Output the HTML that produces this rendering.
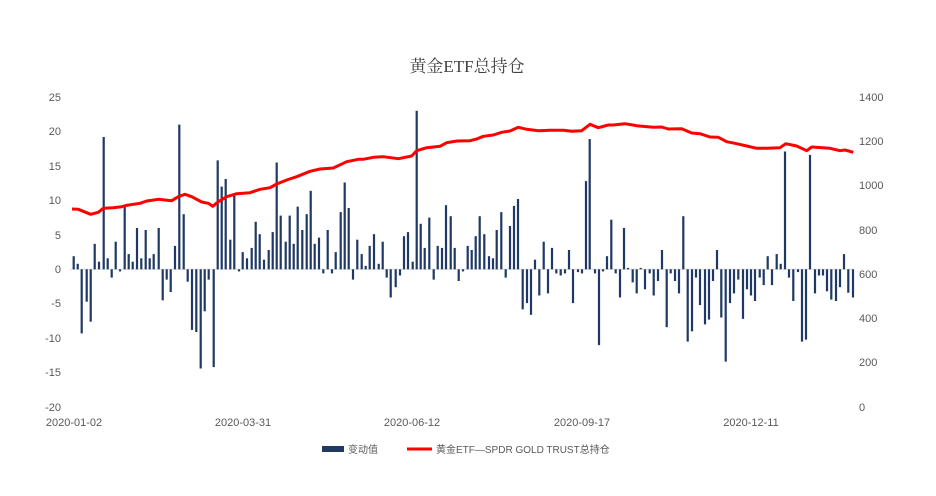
<!DOCTYPE html>
<html><head><meta charset="utf-8"><style>
body{margin:0;background:#fff;}
svg{display:block;font-family:"Liberation Sans","Noto Sans CJK SC",sans-serif;}
</style></head><body>
<svg id="c" width="936" height="496" viewBox="0 0 936 496" xmlns="http://www.w3.org/2000/svg">
<rect width="936" height="496" fill="#fff"/>
<text x="467" y="72" text-anchor="middle" font-size="17" fill="#404040" font-family="Liberation Serif,Noto Serif CJK SC,serif">黄金ETF总持仓</text>
<g font-size="11" fill="#595959" text-anchor="end">
<text x="61" y="101">25</text><text x="61" y="135">20</text><text x="61" y="170">15</text><text x="61" y="204">10</text><text x="61" y="239">5</text><text x="61" y="273">0</text><text x="61" y="307">-5</text><text x="61" y="342">-10</text><text x="61" y="376">-15</text><text x="61" y="411">-20</text>
</g>
<g font-size="11" fill="#595959" text-anchor="start">
<text x="859" y="101">1400</text><text x="859" y="145">1200</text><text x="859" y="189">1000</text><text x="859" y="234">800</text><text x="859" y="278">600</text><text x="859" y="322">400</text><text x="859" y="366">200</text><text x="859" y="411">0</text>
</g>
<g font-size="11" fill="#595959" text-anchor="middle">
<text x="74" y="426">2020-01-02</text><text x="243" y="426">2020-03-31</text><text x="412" y="426">2020-06-12</text><text x="582" y="426">2020-09-17</text><text x="751" y="426">2020-12-11</text>
</g>
<line x1="70" y1="269.3" x2="853" y2="269.3" stroke="#d9d9d9" stroke-width="1"/>
<g id="bars" fill="#1f3864"></g>
<polyline id="ln" fill="none" stroke="#ff0000" stroke-width="3" stroke-linejoin="round"/>
<rect x="322" y="446" width="22" height="6" fill="#1f3864"/>
<text x="348" y="453" font-size="10" fill="#595959">变动值</text>
<line x1="407" y1="449" x2="432" y2="449" stroke="#ff0000" stroke-width="3"/>
<text x="436" y="453" font-size="10" fill="#595959">黄金ETF—SPDR GOLD TRUST总持仓</text>
</svg>
<script>
var z1=[[41,1.9],[53,.8],[65,-9.3],[80,-4.7],[92,-7.6],[104,3.7],[117,1.1],[131,19.2],[143,1.6],[155,-1.2],[167,4],[180,-.3],[194,9.1],[206,2.2],[218,1.1],[231,6],[244,1.6],[257,5.7],[269,1.6],[281,2.2],[296,6],[308,-4.5],[320,-1.5],[332,-3.3],[345,3.4],[358,21],[371,8],[383,-1.8],[396,-8.8],[409,-9.1],[422,-14.4],[434,-6.1],[446,-1.5],[461,-14.2],[473,15.8],[485,12],[497,13.1],[511,4.3],[523,10.8],[537,-.3],[548,2.5],[561,1.6],[575,3.1],[587,6.9],[599,5.1],[612,1.4],[626,2.8],[638,5.4],[650,15.5],[662,7.8],[677,4],[689,7.8],[701,3.7],[713,9.1],[727,5.7],[740,8],[752,11.4],[764,3.7],[777,4.6],[790,-.6],[803,5.7],[816,-.6],[827,2.5],[842,8.3],[854,12.6],[866,8.9],[879,-1.5],[892,4.3]];
var z2=[[35,2.2],[47,.5],[59,3.4],[72,5.1],[86,.8],[98,4],[110,-1.2],[122,-4.1],[137,-2.6],[150,-.9],[162,4.8],[174,5.4],[188,1.1],[200,23],[212,6.6],[224,3.1],[238,7.5],[251,-1.5],[263,3.4],[276,3.1],[288,9.3],[302,7.7],[314,3.1],[326,-1.7],[339,-.3],[353,3.4],[365,2.8],[377,4.8],[389,7.7],[403,5.1],[417,1.9],[429,1.6],[440,5.7],[454,8.3],[467,-1.2],[480,6.3],[492,9.2],[504,10.2],[518,-5.8],[531,-4.9],[543,-6.6],[555,1.4],[568,-3.8],[581,4],[594,-3.5],[606,3.1],[619,-.6],[632,-.9],[645,-.6],[657,2.8],[669,-4.9],[684,-.4],[696,-.6],[708,12.8],[719,18.9],[735,-.6],[747,-11],[759,-.3]];
var z3=[[21,1.9],[34,7.2],[47,-.6],[60,-4.1],[72,6],[84,.2],[98,-1.9],[110,-3.5],[122,.2],[135,-2.9],[149,-.6],[161,-3.8],[174,-1.7],[186,2.8],[200,-8.4],[212,-.6],[225,-1.7],[237,-3.5],[250,7.7],[263,-10.5],[276,-9],[288,-1.2],[300,-5.2],[315,-8],[327,-7.3],[339,-1.7],[351,2.8],[364,-7],[377,-13.4],[390,-4.9],[402,-3.5],[415,-1.5],[429,-7.2],[441,-2.9],[453,-3.8],[465,-4.6],[479,-1.2],[491,-2.3],[503,1.9],[516,-2.3],[530,2.2],[542,.8],[555,17.1],[567,-1.2],[580,-4.6],[594,-.4],[606,-10.5],[618,-10.2],[630,16.6],[645,-3.5],[657,-.9],[669,-.9],[681,-3.2],[694,-4.4],[708,-4.6],[720,-2.6],[732,2.2],[745,-3.4],[759,-4.1]];
var bars=[];z1.forEach(function(b){bars.push([60+b[0]/3,b[1]])});z2.forEach(function(b){bars.push([350+b[0]/3,b[1]])});z3.forEach(function(b){bars.push([600+b[0]/3,b[1]])});
var g=document.getElementById('bars'),s='';
bars.forEach(function(b){var h=Math.abs(b[1])*6.89,y=b[1]>0?269.3-h:269.3;s+='<rect x="'+(b[0]-1.1).toFixed(1)+'" y="'+y.toFixed(1)+'" width="2.2" height="'+Math.max(h,0.8).toFixed(1)+'"/>'});
g.innerHTML=s;
var pts="72,209 78.3,209.3 90.7,214.3 98.3,212.3 103.3,208.3 113.3,207.7 121.7,206.7 126.7,205.3 140,203.3 146.7,201 158.3,199.3 171.7,200.7 178.3,196.7 185,194.3 191.7,196.7 201.7,202 208.3,203.3 212.7,206.3 218.3,201.7 226.7,196.7 236.7,193.7 250,192.7 260,189.3 270,187.7 276.7,184 286.7,180 296.7,176.7 310,171.3 320,169 333.3,168 346.7,161.7 358.3,159.3 363.3,159.3 373.3,157.3 383.3,156.7 398.3,158.7 411.7,156 416.7,150.7 426.7,147.7 440,146.3 446.7,142.7 456.7,141 470,140.7 476.7,139 483.3,136.3 493.3,135 501.7,132.3 510,131 518.3,127.3 526.7,129.3 538.3,130.7 550,130.3 563.3,130.3 571.7,131.3 581.7,130.7 590,124.3 598.3,127.7 608.3,125 613.3,125 625,123.7 636.7,125.7 653.3,127.3 661.7,127 668.3,129 681.7,128.7 691.7,133 700,133.7 710,137 718.3,137.3 726.7,141.7 736.7,143.7 746.7,146 756.7,148.3 766.7,148.3 780,147.7 785.7,143.7 796.7,146 806.7,150.7 811.7,147 830,148.3 840,150.7 845,150 853.3,152.3";
document.getElementById('ln').setAttribute('points',pts);
</script>
</body></html>
